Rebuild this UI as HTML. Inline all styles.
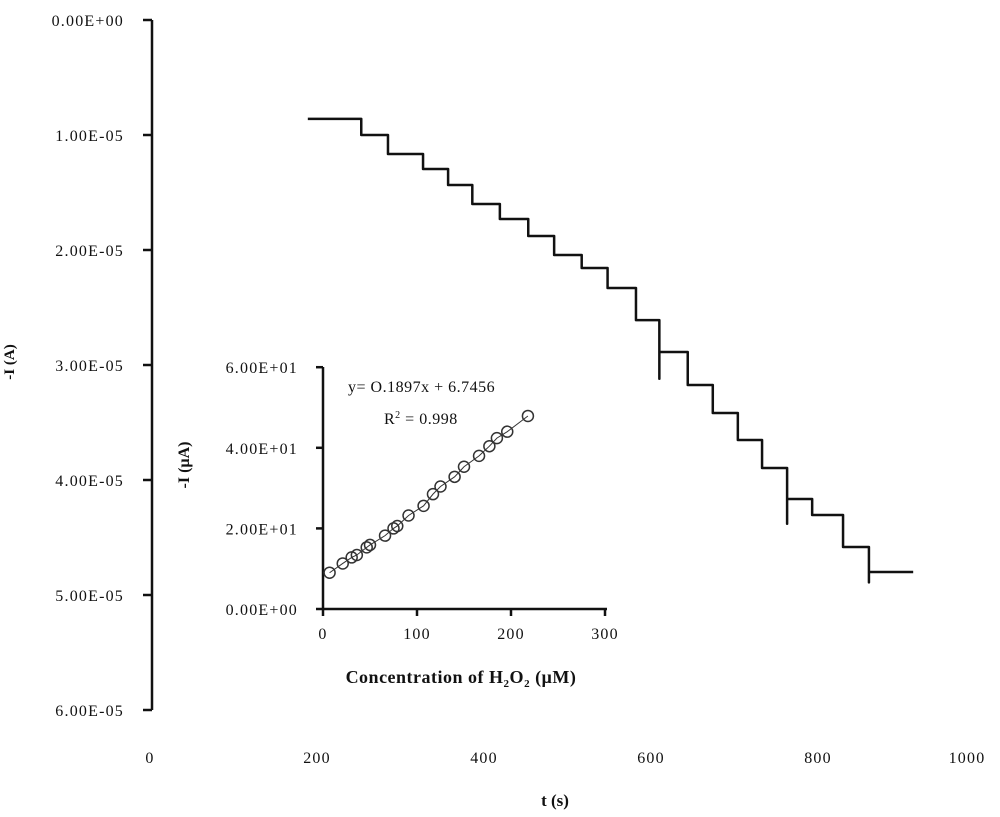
<!DOCTYPE html>
<html><head><meta charset="utf-8"><style>
html,body{margin:0;padding:0;background:#fff;}
svg text{font-family:"Liberation Serif",serif;fill:#111;}
</style></head><body>
<svg id="chart" width="1000" height="812" viewBox="0 0 1000 812" xmlns="http://www.w3.org/2000/svg"></svg>
<script>
// Main chart data
const stepTimes = [189, 253, 285, 327, 357, 386, 419, 453, 484, 517, 548, 582, 610, 644, 674, 704, 733, 763, 793, 830, 861, 914];
const stepLevels = [0.86, 1.0, 1.165, 1.296, 1.435, 1.6, 1.73, 1.878, 2.043, 2.157, 2.33, 2.61, 2.887, 3.174, 3.417, 3.652, 3.896, 4.165, 4.304, 4.583, 4.8];
const spikeTimes = [610, 763, 861];
const spikeValues = [3.12, 4.38, 4.89];
const yTickLabels = ["0.00E+00","1.00E-05","2.00E-05","3.00E-05","4.00E-05","5.00E-05","6.00E-05"];
const xTickLabels = ["0","200","400","600","800","1000"];
// Inset data
const insetConc = [7, 21, 30.5, 36, 46.5, 50, 66, 75, 79, 91, 107, 117, 125, 140, 150, 166, 177, 185, 196, 218];
const insetCurrent = [9.0, 11.3, 12.8, 13.4, 15.3, 15.9, 18.2, 20.0, 20.6, 23.2, 25.6, 28.5, 30.4, 32.8, 35.3, 38.0, 40.4, 42.4, 44.0, 47.9];
const insetYTicks = ["0.00E+00","2.00E+01","4.00E+01","6.00E+01"];
const insetXTicks = ["0","100","200","300"];

const svg = document.getElementById('chart');
const NS = 'http://www.w3.org/2000/svg';
function mk(tag, attrs, parent){const e=document.createElementNS(NS,tag);for(const k in attrs)e.setAttribute(k,attrs[k]);(parent||svg).appendChild(e);return e;}

const X = t => 150 + t*0.835;
const Y = v => 20 + v*115; // v in 1e-5 A

let ax = mk('line',{x1:152,y1:20,x2:152,y2:710,stroke:'#111','stroke-width':2.5});


yTickLabels.forEach((lab,i)=>{
  const y=Y(i);
  const tk=mk('line',{x1:143,y1:y,x2:152,y2:y,stroke:'#111','stroke-width':2.5});
  
  
  const t=mk('text',{x:124,y:y+6,'text-anchor':'end','font-size':16,'letter-spacing':1.2});
  t.textContent=lab;
  
  
});
xTickLabels.forEach((lab,i)=>{
  const x = i===xTickLabels.length-1 ? X(+lab)-18 : X(+lab);
  const t=mk('text',{x:x,y:763,'text-anchor':'middle','font-size':16,'letter-spacing':1.2});
  t.textContent=lab;
  
  
});
let yt=mk('text',{x:0,y:0,transform:'translate(14,362) rotate(-90)','text-anchor':'middle','font-size':15,'font-weight':'bold'});
yt.textContent='-I (A)';


let xt=mk('text',{x:555,y:806,'text-anchor':'middle','font-size':17,'font-weight':'bold'});
xt.textContent='t (s)';



// staircase
let d='M'+X(stepTimes[0])+','+Y(stepLevels[0]);
for(let i=1;i<stepTimes.length;i++){
  d+=' L'+X(stepTimes[i])+','+Y(stepLevels[i-1]);
  if(i<stepLevels.length){
    const si=spikeTimes.indexOf(stepTimes[i]);
    if(si>=0){d+=' L'+X(stepTimes[i])+','+Y(spikeValues[si]);}
    d+=' L'+X(stepTimes[i])+','+Y(stepLevels[i]);
  }
}
let trace=mk('path',{d:d,fill:'none',stroke:'#111','stroke-width':2.5,'stroke-linejoin':'round'});



// Inset
const IX = c => 323 + c*0.94;
const IY = v => 609 - v*4.03;
let iax=mk('line',{x1:323,y1:367,x2:323,y2:609,stroke:'#111','stroke-width':2.5});


let ixa=mk('line',{x1:323,y1:609,x2:607,y2:609,stroke:'#111','stroke-width':2.5});


insetYTicks.forEach((lab,i)=>{
  const y=IY(i*20);
  const tk=mk('line',{x1:316,y1:y,x2:323,y2:y,stroke:'#111','stroke-width':2.5});
  
  
  const t=mk('text',{x:298,y:y+6,'text-anchor':'end','font-size':16,'letter-spacing':1.2});
  t.textContent=lab;
  
  
});
insetXTicks.forEach(lab=>{
  const x=IX(+lab);
  const tk=mk('line',{x1:x,y1:609,x2:x,y2:616,stroke:'#111','stroke-width':2.5});
  
  
  const t=mk('text',{x:x,y:639,'text-anchor':'middle','font-size':16,'letter-spacing':1.2});
  t.textContent=lab;
  
  
});
let fit=mk('polyline',{points:insetConc.map((c,i)=>IX(c)+','+IY(insetCurrent[i])).join(' '),fill:'none',stroke:'#333','stroke-width':1});


insetConc.forEach((c,i)=>{
  const p=mk('circle',{cx:IX(c),cy:IY(insetCurrent[i]),r:5.5,fill:'none',stroke:'#333','stroke-width':1.5});
  
  
});
let eq=mk('text',{x:348,y:392,'font-size':16,'letter-spacing':0.5});
eq.textContent='y= O.1897x + 6.7456';


let r2=mk('text',{x:384,y:424,'font-size':16,'letter-spacing':0.5});
r2.innerHTML='R<tspan font-size="10" dy="-6">2</tspan><tspan dy="6"> = 0.998</tspan>';


let iyt=mk('text',{x:0,y:0,transform:'translate(189,465) rotate(-90)','text-anchor':'middle','font-size':16,'font-weight':'bold'});
iyt.textContent='-I (µA)';


let ixt=mk('text',{x:461,y:683,'text-anchor':'middle','font-size':18,'font-weight':'bold','letter-spacing':0.5});
ixt.innerHTML='Concentration of H<tspan font-size="11" dy="4">2</tspan><tspan dy="-4">O</tspan><tspan font-size="11" dy="4">2</tspan><tspan dy="-4"> (µM)</tspan>';


</script>
</body></html>
